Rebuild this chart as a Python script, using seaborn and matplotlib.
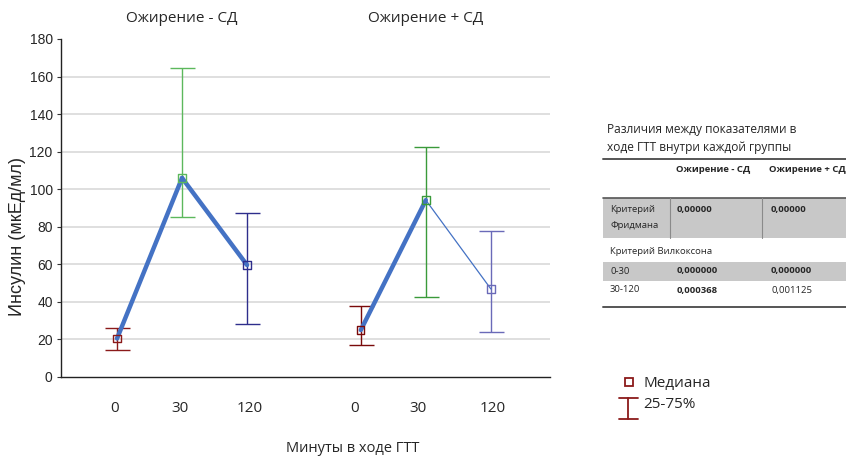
import matplotlib
matplotlib.use("Agg")
import matplotlib.pyplot as plt
from matplotlib.patches import Rectangle
from matplotlib.lines import Line2D
import seaborn as sns
import pandas as pd

# --- data -------------------------------------------------------------
groups = ["Ожирение - СД", "Ожирение + СД"]
time_labels = ["0", "30", "120"]

median_no_dm = [20.5, 106.0, 59.6]
q25_no_dm = [14.4, 85.2, 28.2]
q75_no_dm = [26.1, 164.4, 87.3]

median_dm = [25.0, 94.2, 46.9]
q25_dm = [17.0, 42.6, 24.1]
q75_dm = [37.8, 122.6, 77.6]

table_cols = ["Ожирение - СД", "Ожирение + СД"]
friedman = ["0,00000", "0,00000"]
wilcoxon_rows = ["0-30", "30-120"]
wilcoxon_vals = [["0,000000", "0,000000"], ["0,000368", "0,001125"]]
wilcoxon_bold = [[True, True], [True, False]]

# --- style ------------------------------------------------------------
sns.set_style("white")
plt.rcParams["font.family"] = ["Open Sans", "DejaVu Sans"]
W, H = 846, 459
fig = plt.figure(figsize=(W / 100, H / 100), dpi=100)


def fx(px):
    return px / W


def fy(py):
    return 1 - py / H


ax = fig.add_axes([fx(61), fy(377), fx(550) - fx(61), fy(39) - fy(377)])

line_color = "#4472C4"
point_colors = [
    ["#8B1A1A", "#5CB85C", "#2E2E8C"],
    ["#7A0A0A", "#3A9A3A", "#6A6AB8"],
]
positions = [[0.0, 1.0, 2.0], [3.75, 4.75, 5.75]]
medians = [median_no_dm, median_dm]
lows = [q25_no_dm, q25_dm]
highs = [q75_no_dm, q75_dm]
# line widths of segments 0-30 and 30-120 in each group
seg_widths = [[3.2, 3.2], [3.2, 0.9]]

for g in range(2):
    xs = positions[g]
    med = medians[g]
    for s in range(2):
        seg = pd.DataFrame({"x": xs[s:s + 2], "y": med[s:s + 2]})
        sns.lineplot(data=seg, x="x", y="y", ax=ax, color=line_color,
                     linewidth=seg_widths[g][s], zorder=3, legend=False)
    for i in range(3):
        c = point_colors[g][i]
        ax.errorbar(xs[i], med[i],
                    yerr=[[med[i] - lows[g][i]], [highs[g][i] - med[i]]],
                    fmt="none", ecolor=c, elinewidth=1.0, capsize=9,
                    capthick=1.0, zorder=2)
    pts = pd.DataFrame({"x": xs, "y": med, "t": time_labels})
    sns.scatterplot(data=pts, x="x", y="y", hue="t",
                    palette=dict(zip(time_labels, point_colors[g])),
                    marker="s", s=28, facecolors="none", linewidth=1.0,
                    ax=ax, zorder=4, legend=False)
    # open squares outlined in each time point's colour
    coll = ax.collections[-1]
    coll.set_edgecolors(point_colors[g])
    coll.set_facecolors("none")

ax.set_xlim(-0.862, 6.66)
ax.set_ylim(0, 180)
ax.set_yticks(range(0, 181, 20))
ax.set_yticklabels([str(v) for v in range(0, 181, 20)],
                   fontfamily=["Liberation Sans"], fontsize=10)
for v in range(20, 161, 20):
    ax.axhline(v, color="#DCDCDC", linewidth=1.3, zorder=0)
ax.set_xticks([1.0, 4.75])
ax.set_xticklabels([])
ax.tick_params(axis="x", direction="in", length=3, width=0.8, color="#555555")
ax.tick_params(axis="y", direction="out", length=3, width=0.8, color="#333333",
               pad=3, left=True)
for side in ("top", "right"):
    ax.spines[side].set_visible(False)
for side in ("left", "bottom"):
    ax.spines[side].set_color("#222222")
    ax.spines[side].set_linewidth(1.0)
ax.set_xlabel("")
ax.set_ylabel("")
fig.text(fx(17.5), fy(236), "Инсулин (мкЕд/мл)", rotation=90,
         ha="center", va="center", fontfamily=["Liberation Sans"],
         fontsize=13)

# group tick labels and titles
tick_px = [[115, 180, 250], [355, 418, 493]]
for g in range(2):
    for i in range(3):
        fig.text(fx(tick_px[g][i]), fy(408), time_labels[i], ha="center",
                 va="center", fontsize=11)
fig.text(fx(182), fy(18), groups[0], ha="center", va="center", fontsize=11)
fig.text(fx(426), fy(18), groups[1], ha="center", va="center", fontsize=11)
fig.text(fx(353), fy(449), "Минуты в ходе ГТТ", ha="center", va="center",
         fontsize=10.5)

# --- statistics table ---------------------------------------------------
tfs = 6.8
fig.text(fx(607), fy(130), "Различия между показателями в",
         ha="left", va="center", fontsize=8.6)
fig.text(fx(607), fy(147), "ходе ГТТ внутри каждой группы",
         ha="left", va="center", fontsize=8.6)
fig.add_artist(Line2D([fx(603), fx(846)], [fy(159), fy(159)],
                      color="#555555", linewidth=1.4))
fig.text(fx(713), fy(169), table_cols[0], ha="center", va="center",
         fontsize=tfs, fontweight="bold")
fig.text(fx(807), fy(169), table_cols[1], ha="center", va="center",
         fontsize=tfs, fontweight="bold")
fig.add_artist(Line2D([fx(603), fx(846)], [fy(198), fy(198)],
                      color="#555555", linewidth=1.2))

gray = "#C8C8C8"
fig.add_artist(Rectangle((fx(603), fy(238)), fx(846) - fx(603),
                         fy(198) - fy(238), facecolor=gray, edgecolor="none"))
for xs_ in (670, 762):
    fig.add_artist(Line2D([fx(xs_), fx(xs_)], [fy(198), fy(238)],
                          color="#8A8A8A", linewidth=0.8))
fig.text(fx(610), fy(210), "Критерий", ha="left", va="center", fontsize=tfs)
fig.text(fx(610), fy(226), "Фридмана", ha="left", va="center", fontsize=tfs)
fig.text(fx(677), fy(210), friedman[0], ha="left", va="center",
         fontsize=tfs, fontweight="bold")
fig.text(fx(771), fy(210), friedman[1], ha="left", va="center",
         fontsize=tfs, fontweight="bold")

fig.text(fx(610), fy(252), "Критерий Вилкоксона", ha="left", va="center",
         fontsize=tfs)
row_y = [271, 290]
fig.add_artist(Rectangle((fx(603), fy(281)), fx(846) - fx(603),
                         fy(262) - fy(281), facecolor=gray, edgecolor="none"))
for r in range(2):
    fig.text(fx(610), fy(row_y[r]), wilcoxon_rows[r], ha="left",
             va="center", fontsize=tfs)
    for c, xc in enumerate((677, 771)):
        fig.text(fx(xc), fy(row_y[r]), wilcoxon_vals[r][c], ha="left",
                 va="center", fontsize=tfs,
                 fontweight="bold" if wilcoxon_bold[r][c] else "normal")
fig.add_artist(Line2D([fx(603), fx(846)], [fy(307), fy(307)],
                      color="#555555", linewidth=1.4))

# --- legend -----------------------------------------------------------
leg_red = "#8B1A1A"
fig.add_artist(Rectangle((fx(625), fy(386)), fx(8), fy(0) - fy(8),
                         facecolor="none", edgecolor=leg_red, linewidth=1.3))
fig.text(fx(643), fy(383), "Медиана", ha="left", va="center", fontsize=11)
fig.add_artist(Line2D([fx(628), fx(628)], [fy(398), fy(419)],
                      color=leg_red, linewidth=1.3))
fig.add_artist(Line2D([fx(619), fx(638)], [fy(398), fy(398)],
                      color=leg_red, linewidth=1.3))
fig.add_artist(Line2D([fx(619), fx(638)], [fy(419), fy(419)],
                      color=leg_red, linewidth=1.3))
fig.text(fx(643), fy(405), "25-75%", ha="left", va="center", fontsize=11)

fig.savefig("out.png", dpi=100)
